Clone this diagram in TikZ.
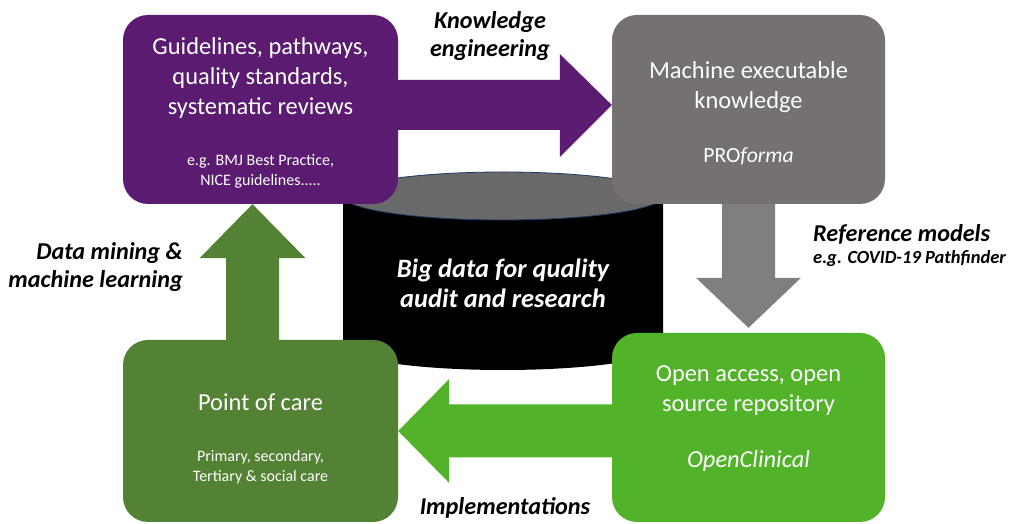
\documentclass[tikz,border=0pt]{standalone}
\usepackage{fontspec}
\setmainfont{Carlito}
\definecolor{guidepurple}{RGB}{90,27,112}
\definecolor{execgray}{RGB}{118,113,113}
\definecolor{arrowgray}{RGB}{127,127,127}
\definecolor{caregreen}{RGB}{84,130,53}
\definecolor{opengreen}{RGB}{82,178,42}
\definecolor{drumtop}{RGB}{105,105,105}
\definecolor{drumedge}{RGB}{31,56,100}
\begin{document}
\begin{tikzpicture}
		[x=1pt,y=1pt,
			mybox/.style={rounded corners=25,minimum width=275,minimum height=189,inner sep=0},
			maintext/.style={text=white,align=center,inner sep=0,font=\fontsize{24.4}{30}\selectfont},
			subtext/.style={text=white,align=center,inner sep=0,font=\fontsize{16}{20}\selectfont},
			sidelabel/.style={inner sep=0,font=\fontsize{24.2}{28}\bfseries\itshape\selectfont}]
	\useasboundingbox (0,0) rectangle (1009,524);
	% the data store in the middle
	\fill[black] (343,328) -- (343,178) arc[start angle=180,end angle=360,x radius=160,y radius=24] -- (663,328) -- cycle;
	\filldraw[fill=drumtop,draw=drumedge,line width=0.8] (503,328) ellipse[x radius=160,y radius=24];
	\node[name=bigdata,text=white,align=center,font=\fontsize{26.5}{30}\bfseries\itshape\selectfont] at (503,241)
		{Big data for quality\\audit and research};
	% the four boxes
	\node[mybox,name=guide,fill=guidepurple] at (260.5,414.5) {};
	\node[mybox,name=exec,fill=execgray,minimum width=273] at (748.5,414.5) {};
	\node[mybox,name=point,fill=caregreen,minimum height=182] at (260.5,93) {};
	\node[mybox,name=open,fill=opengreen,minimum width=273] at (748.5,96.5) {};
	\node[maintext,anchor=north] at ([yshift=-23]guide.north) {Guidelines, pathways,\\quality standards,\\systematic reviews};
	\node[subtext,anchor=north] at ([yshift=-139]guide.north) {e.g. BMJ Best Practice,\\NICE guidelines.....};
	\node[maintext,anchor=north] at ([yshift=-47]exec.north) {Machine executable\\knowledge};
	\node[maintext,anchor=north,font=\fontsize{21.7}{26}\selectfont] at ([yshift=-133]exec.north) {PRO\textit{forma}};
	\node[maintext,anchor=north] at ([yshift=-33]open.north) {Open access, open\\source repository};
	\node[maintext,anchor=north] at ([yshift=-118]open.north) {\textit{OpenClinical}};
	\node[maintext,anchor=north] at ([yshift=-54]point.north) {Point of care};
	\node[subtext,anchor=north] at ([yshift=-110]point.north) {Primary, secondary,\\Tertiary \& social care};
	% block arrows between the boxes
	\fill[guidepurple] ([yshift=29.5]guide.east) -- ([xshift=-52,yshift=29.5]exec.west) -- ([xshift=-52,yshift=55.5]exec.west)
		-- ([yshift=4.5]exec.west) -- ([xshift=-52,yshift=-47.5]exec.west) -- ([xshift=-52,yshift=-20.5]exec.west)
		-- ([yshift=-20.5]guide.east) -- cycle;
	\fill[arrowgray] ([xshift=-26.5]exec.south) -- ([xshift=-26.5,yshift=55]open.north) -- ([xshift=-52.5,yshift=55]open.north)
		-- ([yshift=5]open.north) -- ([xshift=52.5,yshift=55]open.north) -- ([xshift=26.5,yshift=55]open.north)
		-- ([xshift=26.5]exec.south) -- cycle;
	\fill[opengreen] ([yshift=26.5]point.east -| open.west) -- ([xshift=51,yshift=26.5]point.east) -- ([xshift=51,yshift=52]point.east)
		-- (point.east) -- ([xshift=51,yshift=-52]point.east) -- ([xshift=51,yshift=-26.5]point.east)
		-- ([yshift=-26.5]point.east -| open.west) -- cycle;
	\fill[caregreen] ([xshift=-34.5]point.north) -- ([xshift=-34.5,yshift=-54]guide.south) -- ([xshift=-61,yshift=-54]guide.south)
		-- ([xshift=-8]guide.south) -- ([xshift=45,yshift=-54]guide.south) -- ([xshift=18.5,yshift=-54]guide.south)
		-- ([xshift=18.5]point.north) -- cycle;
	% labels of the arrows
	\node[sidelabel,name=engineering,align=center] at (490,488) {Knowledge\\engineering};
	\node[sidelabel,name=refmodels,align=left,anchor=north west] at (813,300)
		{Reference models\\[-6pt]{\fontsize{18.5}{20}\selectfont e.g. COVID-19 Pathfinder}};
	\node[sidelabel,name=mining,align=right,anchor=east] at (183,257) {Data mining \&\\machine learning};
	\node[sidelabel,name=implement] at (505,16) {Implementations};
\end{tikzpicture}
\end{document}
